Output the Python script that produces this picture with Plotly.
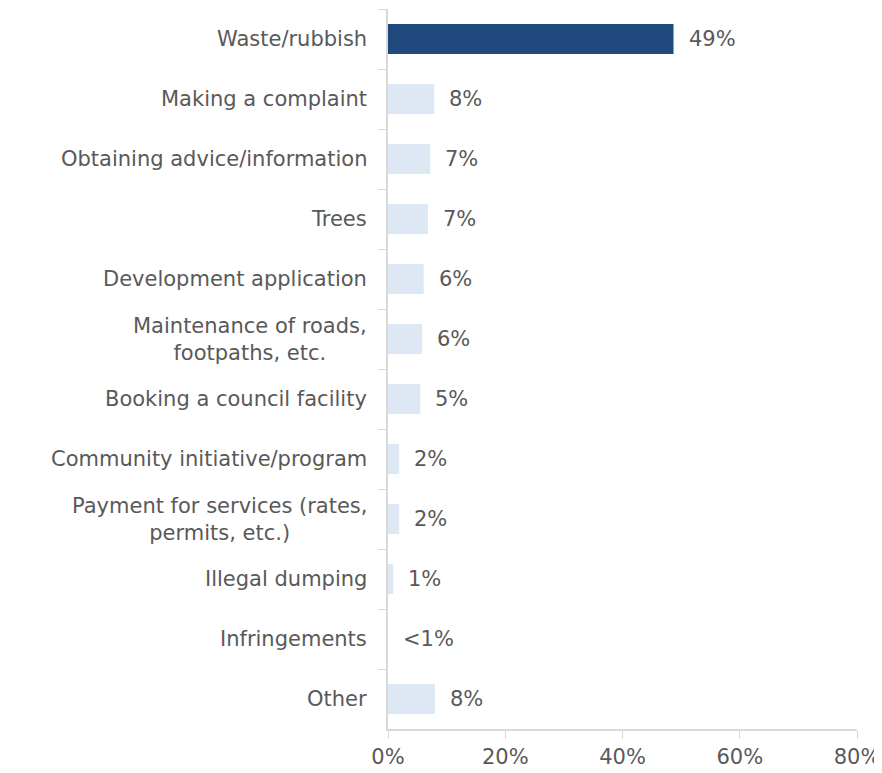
import plotly.graph_objects as go

categories = [
    "Waste/rubbish",
    "Making a complaint",
    "Obtaining advice/information",
    "Trees",
    "Development application",
    "Maintenance of roads,<br>footpaths, etc.",
    "Booking a council facility",
    "Community initiative/program",
    "Payment for services (rates,<br>permits, etc.)",
    "Illegal dumping",
    "Infringements",
    "Other",
]
values = [48.7, 7.9, 7.2, 6.8, 6.1, 5.8, 5.5, 1.9, 1.9, 0.9, 0.0, 8.0]
value_labels = ["49%", "8%", "7%", "7%", "6%", "6%", "5%", "2%", "2%", "1%", "<1%", "8%"]
x_ticks = [0, 20, 40, 60, 80]
x_tick_labels = ["0%", "20%", "40%", "60%", "80%"]

FONT = "DejaVu Sans"
FSIZE = 21
TEXT_COL = "#595959"
AXIS_COL = "#d9d9d9"

colors = ["#1f497d"] + ["#dde8f4"] * (len(categories) - 1)

fig = go.Figure()
fig.add_trace(go.Bar(
    x=values,
    y=categories,
    orientation="h",
    marker=dict(color=colors, line=dict(width=0)),
    hoverinfo="skip",
))

# value labels to the right of each bar
for cat, val, lab in zip(categories, values, value_labels):
    fig.add_annotation(
        x=val, y=cat, text=lab, showarrow=False,
        xanchor="left", xshift=13,
        font=dict(family=FONT, size=FSIZE, color=TEXT_COL),
    )

# category labels, centred line by line like the original
for cat in categories:
    fig.add_annotation(
        x=0, xref="paper", y=cat, text=cat, showarrow=False,
        xanchor="right", xshift=-19, align="center",
        font=dict(family=FONT, size=FSIZE, color=TEXT_COL),
    )

# thin grey line at the right edge of the original image
fig.add_shape(
    type="line", xref="paper", yref="paper",
    x0=1.051, x1=1.051, y0=0.096, y1=0.931,
    line=dict(color=AXIS_COL, width=1.5),
)

# page body adds 8px margin, so the figure is 8px smaller than the window
fig.update_layout(
    width=874,
    height=765,
    margin=dict(l=380, r=25, t=1, b=44),
    plot_bgcolor="white",
    paper_bgcolor="white",
    bargap=0.5,
    showlegend=False,
    font=dict(family=FONT, size=FSIZE, color=TEXT_COL),
)
fig.update_xaxes(
    range=[0, 80],
    tickvals=x_ticks,
    ticktext=x_tick_labels,
    showgrid=False,
    zeroline=False,
    showline=True,
    linecolor=AXIS_COL,
    linewidth=1.5,
    ticks="outside",
    ticklen=8,
    tickcolor=AXIS_COL,
    tickfont=dict(family=FONT, size=FSIZE, color=TEXT_COL),
    automargin=False,
)
fig.update_yaxes(
    autorange="reversed",
    showticklabels=False,
    showgrid=False,
    showline=True,
    linecolor=AXIS_COL,
    linewidth=1.5,
    ticks="outside",
    tickson="boundaries",
    ticklen=8,
    tickcolor=AXIS_COL,
    automargin=False,
)

fig.write_html("out.html")
